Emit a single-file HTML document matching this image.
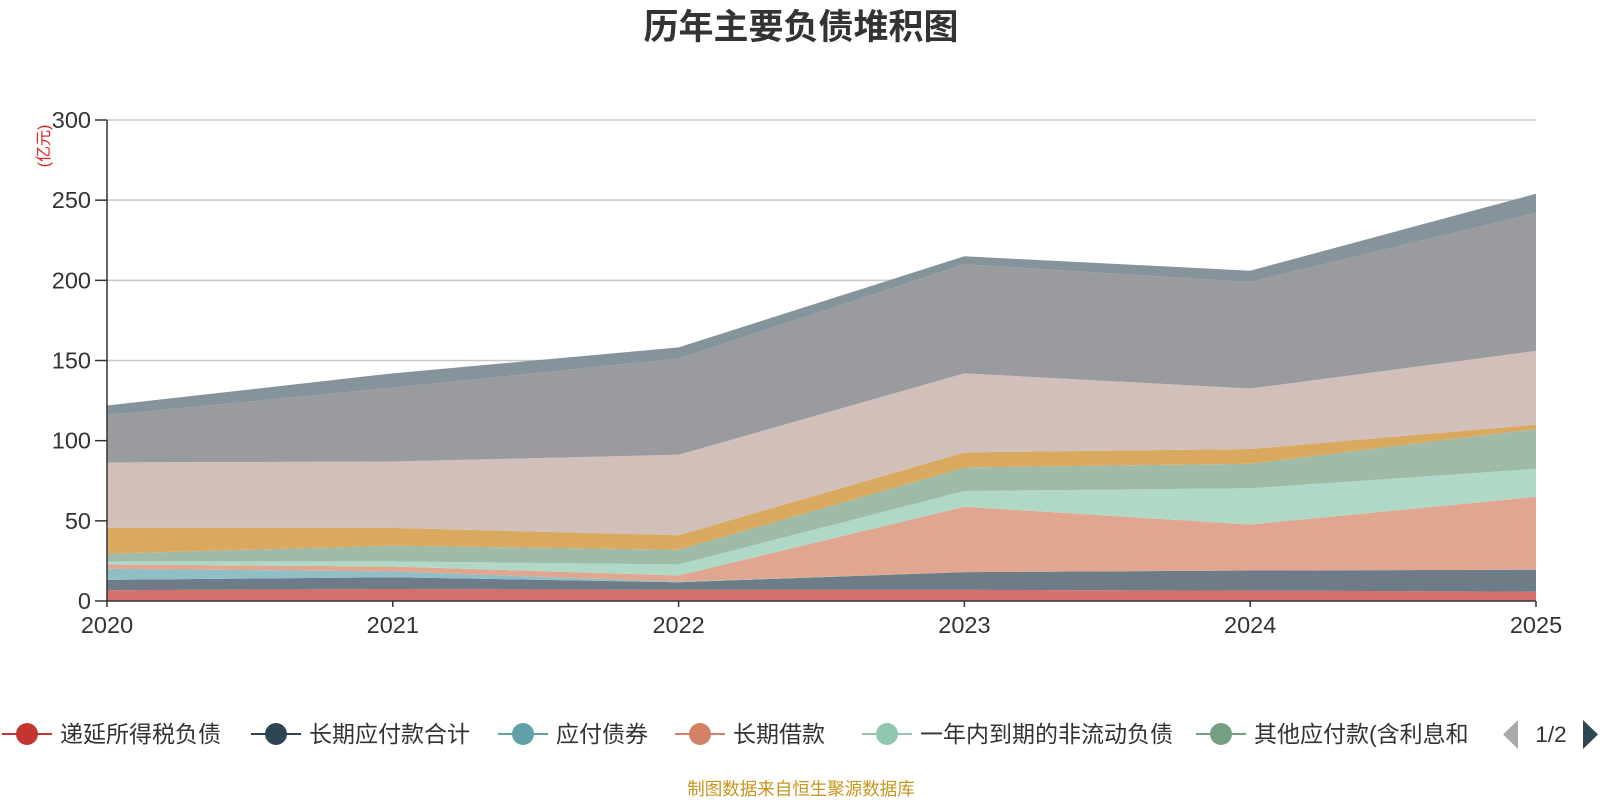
<!DOCTYPE html>
<html><head><meta charset="utf-8">
<style>
html,body{margin:0;padding:0;background:#fff;width:1600px;height:800px;overflow:hidden;font-family:"Liberation Sans","Noto Sans CJK SC",sans-serif;}
svg text{font-family:"Liberation Sans","Noto Sans CJK SC",sans-serif;}
</style></head>
<body>
<svg id="chart" width="1600" height="800">
<text x="801" y="39" text-anchor="middle" font-size="35" font-weight="bold" fill="#333">历年主要负债堆积图</text>
<text transform="translate(49,146) rotate(-90)" text-anchor="middle" font-size="16" fill="#e02020">(亿元)</text>
<g id="grid"></g><g id="areas"></g><g id="axes"></g><g id="legend"></g>
<text x="801" y="795" text-anchor="middle" font-size="17.5" fill="#c8941c">制图数据来自恒生聚源数据库</text>
</svg>
<script>
const years = ["2020","2021","2022","2023","2024","2025"];
const yTicks = [0,50,100,150,200,250,300];
const seriesNames = ["递延所得税负债","长期应付款合计","应付债券","长期借款","一年内到期的非流动负债","其他应付款(含利息和股利)","其他流动负债","应付账款","应付票据","合同负债"];
const sDeferredTax = [6.7,7.5,6.9,6.9,6.5,5.8];
const sLongPayable = [6.5,7.3,4.8,11.1,12.5,13.7];
const sBonds = [6.9,3.6,0.4,0,0,0];
const sLongLoans = [2.7,3.1,3.8,40.8,28.7,45.5];
const sCurrentNonCurrent = [1.9,3.2,6.9,9.8,22.6,17.4];
const sOtherPayable = [4.8,9.8,9.2,14.7,15.3,24.9];
const sOtherCurrent = [16.1,11.1,9,9.4,9.2,2.7];
const sAccountsPayable = [40.8,41.4,50.2,49.3,37.7,46];
const sNotesPayable = [29.5,46,60,68,66.5,86];
const sContractLiab = [6,9,7,5,7,12];
const allSeries = [sDeferredTax,sLongPayable,sBonds,sLongLoans,sCurrentNonCurrent,sOtherPayable,sOtherCurrent,sAccountsPayable,sNotesPayable,sContractLiab];
const fills = ["#d4706c","#6e7c87","#8fbfc4","#e0a690","#afd9c6","#9fbba8","#d9a960","#d1bfb9","#9a9b9f","#85949b"];
const legendColors = ["#c23531","#2f4554","#61a0a8","#d48265","#91c7ae","#749f83"];
const NS="http://www.w3.org/2000/svg";
const X0=107,X1=1536,Y0=601,Y1=120,YMAX=300;
const xs=i=>X0+(X1-X0)*i/(years.length-1);
const ys=v=>Y0-(Y0-Y1)*v/YMAX;
function mk(tag,attrs,parent){const e=document.createElementNS(NS,tag);for(const k in attrs)e.setAttribute(k,attrs[k]);parent.appendChild(e);return e;}
const grid=document.getElementById('grid'),areas=document.getElementById('areas'),axes=document.getElementById('axes'),legend=document.getElementById('legend');
yTicks.forEach(t=>{
  if(t>0){const g=mk('line',{x1:X0,x2:X1,y1:ys(t),y2:ys(t),stroke:'#c8c8c8','stroke-width':1.5},grid);
  
  }
  const tk=mk('line',{x1:X0-12,x2:X0,y1:ys(t),y2:ys(t),stroke:'#333','stroke-width':1.5},axes);
  
  
  const lb=mk('text',{x:X0-16,y:ys(t)+8,'text-anchor':'end','font-size':23.5,fill:'#333'},axes);
  lb.textContent=t;
  
  
});
let base=years.map(()=>0);
allSeries.forEach((s,si)=>{
  const top=base.map((b,i)=>b+s[i]);
  let d='M'+years.map((_,i)=>xs(i)+','+ys(top[i])).join('L');
  for(let i=years.length-1;i>=0;i--)d+='L'+xs(i)+','+ys(base[i]);
  const p=mk('path',{d:d+'Z',fill:fills[si]},areas);
  
  
  base=top;
});
const ya=mk('line',{x1:X0,x2:X0,y1:Y1,y2:Y0,stroke:'#333','stroke-width':1.5},axes);


const xa=mk('line',{x1:X0,x2:X1,y1:Y0,y2:Y0,stroke:'#333','stroke-width':1.5},axes);


years.forEach((y,i)=>{
  const tk=mk('line',{x1:xs(i),x2:xs(i),y1:Y0,y2:Y0+6,stroke:'#333','stroke-width':1.5},axes);
  
  
  const lb=mk('text',{x:xs(i),y:633,'text-anchor':'middle','font-size':23.5,fill:'#333'},axes);
  lb.textContent=y;
  
  
});
const legX=[27,276,523,700,887,1221];
const legLabels=["递延所得税负债","长期应付款合计","应付债券","长期借款","一年内到期的非流动负债","其他应付款(含利息和"];
legLabels.forEach((t,i)=>{
  const g=mk('g',{},legend);
  
  
  mk('line',{x1:legX[i]-25,x2:legX[i]+25,y1:734,y2:734,stroke:legendColors[i],'stroke-width':2},g);
  mk('circle',{cx:legX[i],cy:734,r:11,fill:legendColors[i]},g);
  const tx=mk('text',{x:legX[i]+33,y:742,'font-size':23,fill:'#333'},g);
  tx.textContent=t;
});
const pl=mk('path',{d:'M1518,720 L1518,749 L1503,734.5 Z',fill:'#aaa'},legend);


const pt=mk('text',{x:1551,y:742,'text-anchor':'middle','font-size':22.5,fill:'#333'},legend);
pt.textContent='1/2';


const pr=mk('path',{d:'M1583,720 L1583,749 L1598,734.5 Z',fill:'#2f4554'},legend);


</script>
</body></html>
